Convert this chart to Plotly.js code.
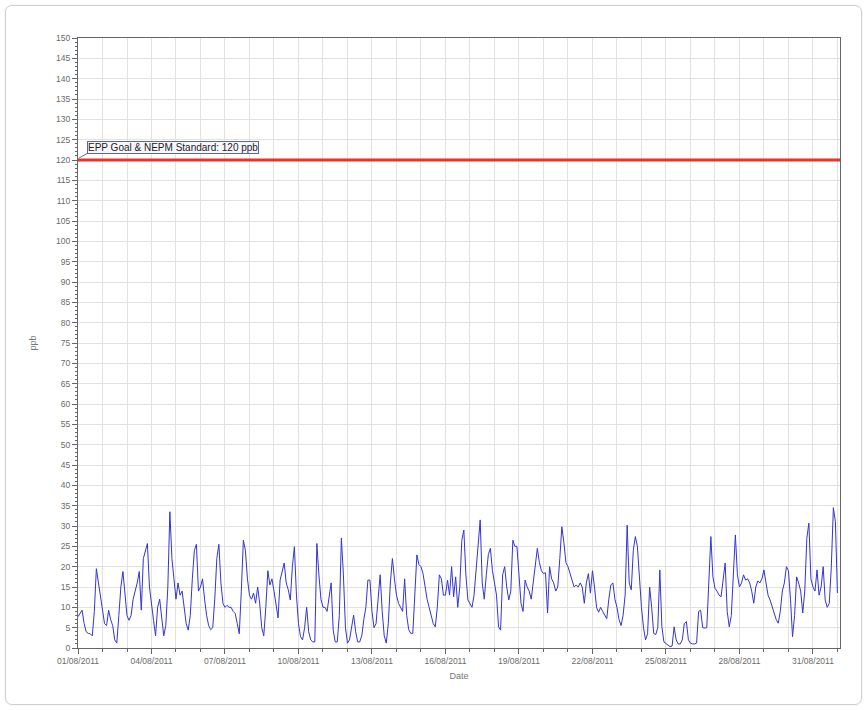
<!DOCTYPE html>
<html>
<head>
<meta charset="utf-8">
<script src="https://cdn.plot.ly/plotly-3.0.1.min.js"></script>
<style>
  html, body { margin: 0; padding: 0; background: #ffffff; }
  #wrap { position: relative; width: 867px; height: 710px; }
  #chart { position: absolute; left: 0; top: 0; width: 867px; height: 710px; }
  #frame { position: absolute; left: 5px; top: 5px; width: 855px; height: 698px;
           border: 1px solid #cfcfcf; border-radius: 7px; pointer-events: none;
           box-shadow: 0 0 2px rgba(0,0,0,0.12); }
</style>
</head>
<body>
<div id="wrap">
  <div id="chart"></div>
  <div id="frame"></div>
</div>
<script>
// Ozone readings (ppb), sampled every 2 hours from 01/08/2011 00:00
const startDate = "2011-08-01T00:00:00Z";
const stepHours = 2;

// 01/08 - 07/08
const ppbWeek1 = [
  7.7, 8.5, 9.3, 6, 4, 3.6, 3.5, 3, 9, 19.5, 16, 13,
  10, 6, 5.5, 9.3, 7, 5.5, 2, 1.2, 8, 15, 18.8, 13,
  8, 6.8, 8, 12, 14, 16, 18.8, 9.3, 22, 24, 25.7, 15,
  10, 6.8, 3, 10, 12, 7, 3, 5.5, 15, 33.5, 22, 17,
  12, 16, 13, 14, 10, 6, 4.4, 8, 17, 24, 25.5, 14,
  15, 17, 12, 8, 5.5, 4.5, 5, 12, 22, 25.5, 16, 11,
  10, 10.5, 10, 10, 9, 8.5, 6, 3.5, 14, 26.5, 24, 17
];
// 08/08 - 14/08
const ppbWeek2 = [
  13, 12, 13.5, 11, 15, 11, 5, 3, 10, 19, 15.5, 17,
  14, 10, 7.4, 16.7, 19, 20.9, 16, 14.3, 11.8, 20, 24.9, 13,
  6, 2.8, 2, 5, 10, 4, 2, 1.5, 1.5, 25.7, 18, 12,
  10, 10, 9, 12, 16, 4.4, 1.5, 1.5, 8, 27, 18, 5,
  1.2, 2, 5, 8.1, 4, 1.5, 1.5, 3, 7, 10, 16.7, 16.7,
  9, 5, 6, 13, 18, 9, 3, 1.2, 6, 16, 22, 17,
  13, 11, 10, 9, 17, 8, 4.5, 3.6, 3.6, 12, 22.9, 20.5
];
// 15/08 - 21/08
const ppbWeek3 = [
  20, 18.3, 15, 12, 10, 8, 6, 5.2, 10, 18, 17, 13,
  13, 16.7, 13, 20, 12.6, 17.5, 10, 15, 26.5, 29, 18, 11.8,
  11, 10, 13, 20, 26.5, 31.5, 16, 12, 18, 23, 24.5, 19,
  16, 13, 5.2, 4.4, 18, 20, 15, 11.8, 14, 26.5, 25, 25,
  18, 11, 9, 16.7, 15, 14, 12, 16, 21.3, 24.5, 21, 19,
  18.3, 18.5, 8.6, 20, 17, 16, 14, 15, 22, 29.8, 26, 21,
  20, 18, 16.7, 15, 15.5, 15, 16, 15, 11, 16, 18.3, 13.5
];
// 22/08 - 28/08
const ppbWeek4 = [
  19, 15, 10, 8.8, 10, 9, 8, 7.2, 12, 15.5, 16, 12,
  10, 7, 5.5, 8, 13, 30.2, 16, 14.3, 24, 27.4, 25, 17,
  10, 5, 2, 3.5, 15, 10, 3.6, 3.3, 5, 19.2, 5.2, 1.5,
  1, 0.7, 0.3, 0.5, 5.2, 2, 1, 1, 2, 6, 6.5, 2,
  1.2, 1, 1, 1.2, 9, 9.3, 5, 4.9, 5, 18, 27.4, 17.5,
  14.7, 14, 13, 12.6, 17, 20.9, 9, 5.2, 8, 20, 27.8, 18,
  15, 16, 18, 16.7, 17, 16, 14, 11, 15, 16.5, 16, 17
];
// 29/08 - 31/08 and 01/09 00:00
const ppbWeek5 = [
  19.2, 16, 13, 11.8, 10, 8.5, 7, 6.1, 9, 14, 16, 20,
  19, 12, 2.8, 8, 17.5, 16, 14, 8.6, 14, 27, 30.7, 17,
  15, 14, 19.2, 13, 15, 20, 11.8, 10, 11, 20, 34.5, 31,
  13.5
];

const standardValue = 120;
const standardLabel = "EPP Goal & NEPM Standard: 120 ppb";
const xRange = ["2011-08-01 00:00", "2011-09-01 02:30"];
const yRange = [0, 150];

const ppb = [].concat(ppbWeek1, ppbWeek2, ppbWeek3, ppbWeek4, ppbWeek5);
const t0 = Date.parse(startDate);
function fmt(ms) {
  const d = new Date(ms);
  const p = n => String(n).padStart(2, "0");
  return d.getUTCFullYear() + "-" + p(d.getUTCMonth() + 1) + "-" + p(d.getUTCDate()) +
         " " + p(d.getUTCHours()) + ":" + p(d.getUTCMinutes());
}
const times = ppb.map((v, i) => fmt(t0 + i * stepHours * 3600000));

const DAY = 86400000;
const FAM = "Liberation Sans, Arial, sans-serif";
const tickFont = { family: FAM, size: 8.5, color: "#6a6a6a" };

const traces = [{
  type: "scatter",
  mode: "lines",
  x: times,
  y: ppb,
  line: { color: "#3434d4", width: 1 },
  hoverinfo: "x+y",
  showlegend: false
}];

const layout = {
  width: 867,
  height: 710,
  margin: { l: 78, r: 27, t: 38, b: 62 },
  paper_bgcolor: "#ffffff",
  plot_bgcolor: "#ffffff",
  showlegend: false,
  font: { family: FAM, size: 9, color: "#666" },
  xaxis: {
    type: "date",
    range: xRange,
    tick0: "2011-08-01",
    dtick: 3 * DAY,
    tickformat: "%d/%m/%Y",
    ticks: "outside",
    ticklen: 5,
    tickcolor: "#666",
    tickfont: tickFont,
    showline: true,
    linecolor: "#666",
    linewidth: 1,
    mirror: true,
    showgrid: true,
    gridcolor: "#e2e2e2",
    gridwidth: 1,
    zeroline: false,
    minor: { dtick: DAY, tick0: "2011-08-01", ticks: "outside", ticklen: 3, tickcolor: "#666",
             showgrid: true, gridcolor: "#e2e2e2" },
    title: { text: "Date", font: { family: FAM, size: 9, color: "#777" }, standoff: 7 }
  },
  yaxis: {
    range: yRange,
    dtick: 5,
    tick0: 0,
    ticks: "outside",
    ticklen: 5,
    tickcolor: "#666",
    tickfont: tickFont,
    showline: true,
    linecolor: "#666",
    linewidth: 1,
    mirror: true,
    showgrid: true,
    gridcolor: "#e2e2e2",
    zeroline: false,
    minor: { dtick: 1, ticks: "outside", ticklen: 2, tickcolor: "#666", showgrid: false },
    title: { text: "ppb", font: { family: FAM, size: 9, color: "#777" }, standoff: 17 }
  },
  shapes: [
    {
      type: "line",
      xref: "paper", x0: 0, x1: 1,
      yref: "y", y0: standardValue, y1: standardValue,
      line: { color: "#e8322e", width: 3 }
    },
    {
      // short leader from the standard line to its label box
      type: "line",
      xref: "x", xsizemode: "pixel", xanchor: xRange[0], x0: 1, x1: 10,
      yref: "y", ysizemode: "pixel", yanchor: standardValue, y0: 2, y1: 7,
      line: { color: "#6c6c9c", width: 1 }
    }
  ],
  annotations: [{
    x: xRange[0],
    y: standardValue,
    xref: "x", yref: "y",
    xanchor: "left", yanchor: "bottom",
    xshift: 9, yshift: 6,
    text: standardLabel,
    showarrow: false,
    font: { family: FAM, size: 10, color: "#222" },
    bgcolor: "#f6f6fc",
    bordercolor: "#5a66a8",
    borderwidth: 1,
    borderpad: 0
  }]
};

Plotly.newPlot("chart", traces, layout, { displayModeBar: false, staticPlot: true });
</script>
</body>
</html>
